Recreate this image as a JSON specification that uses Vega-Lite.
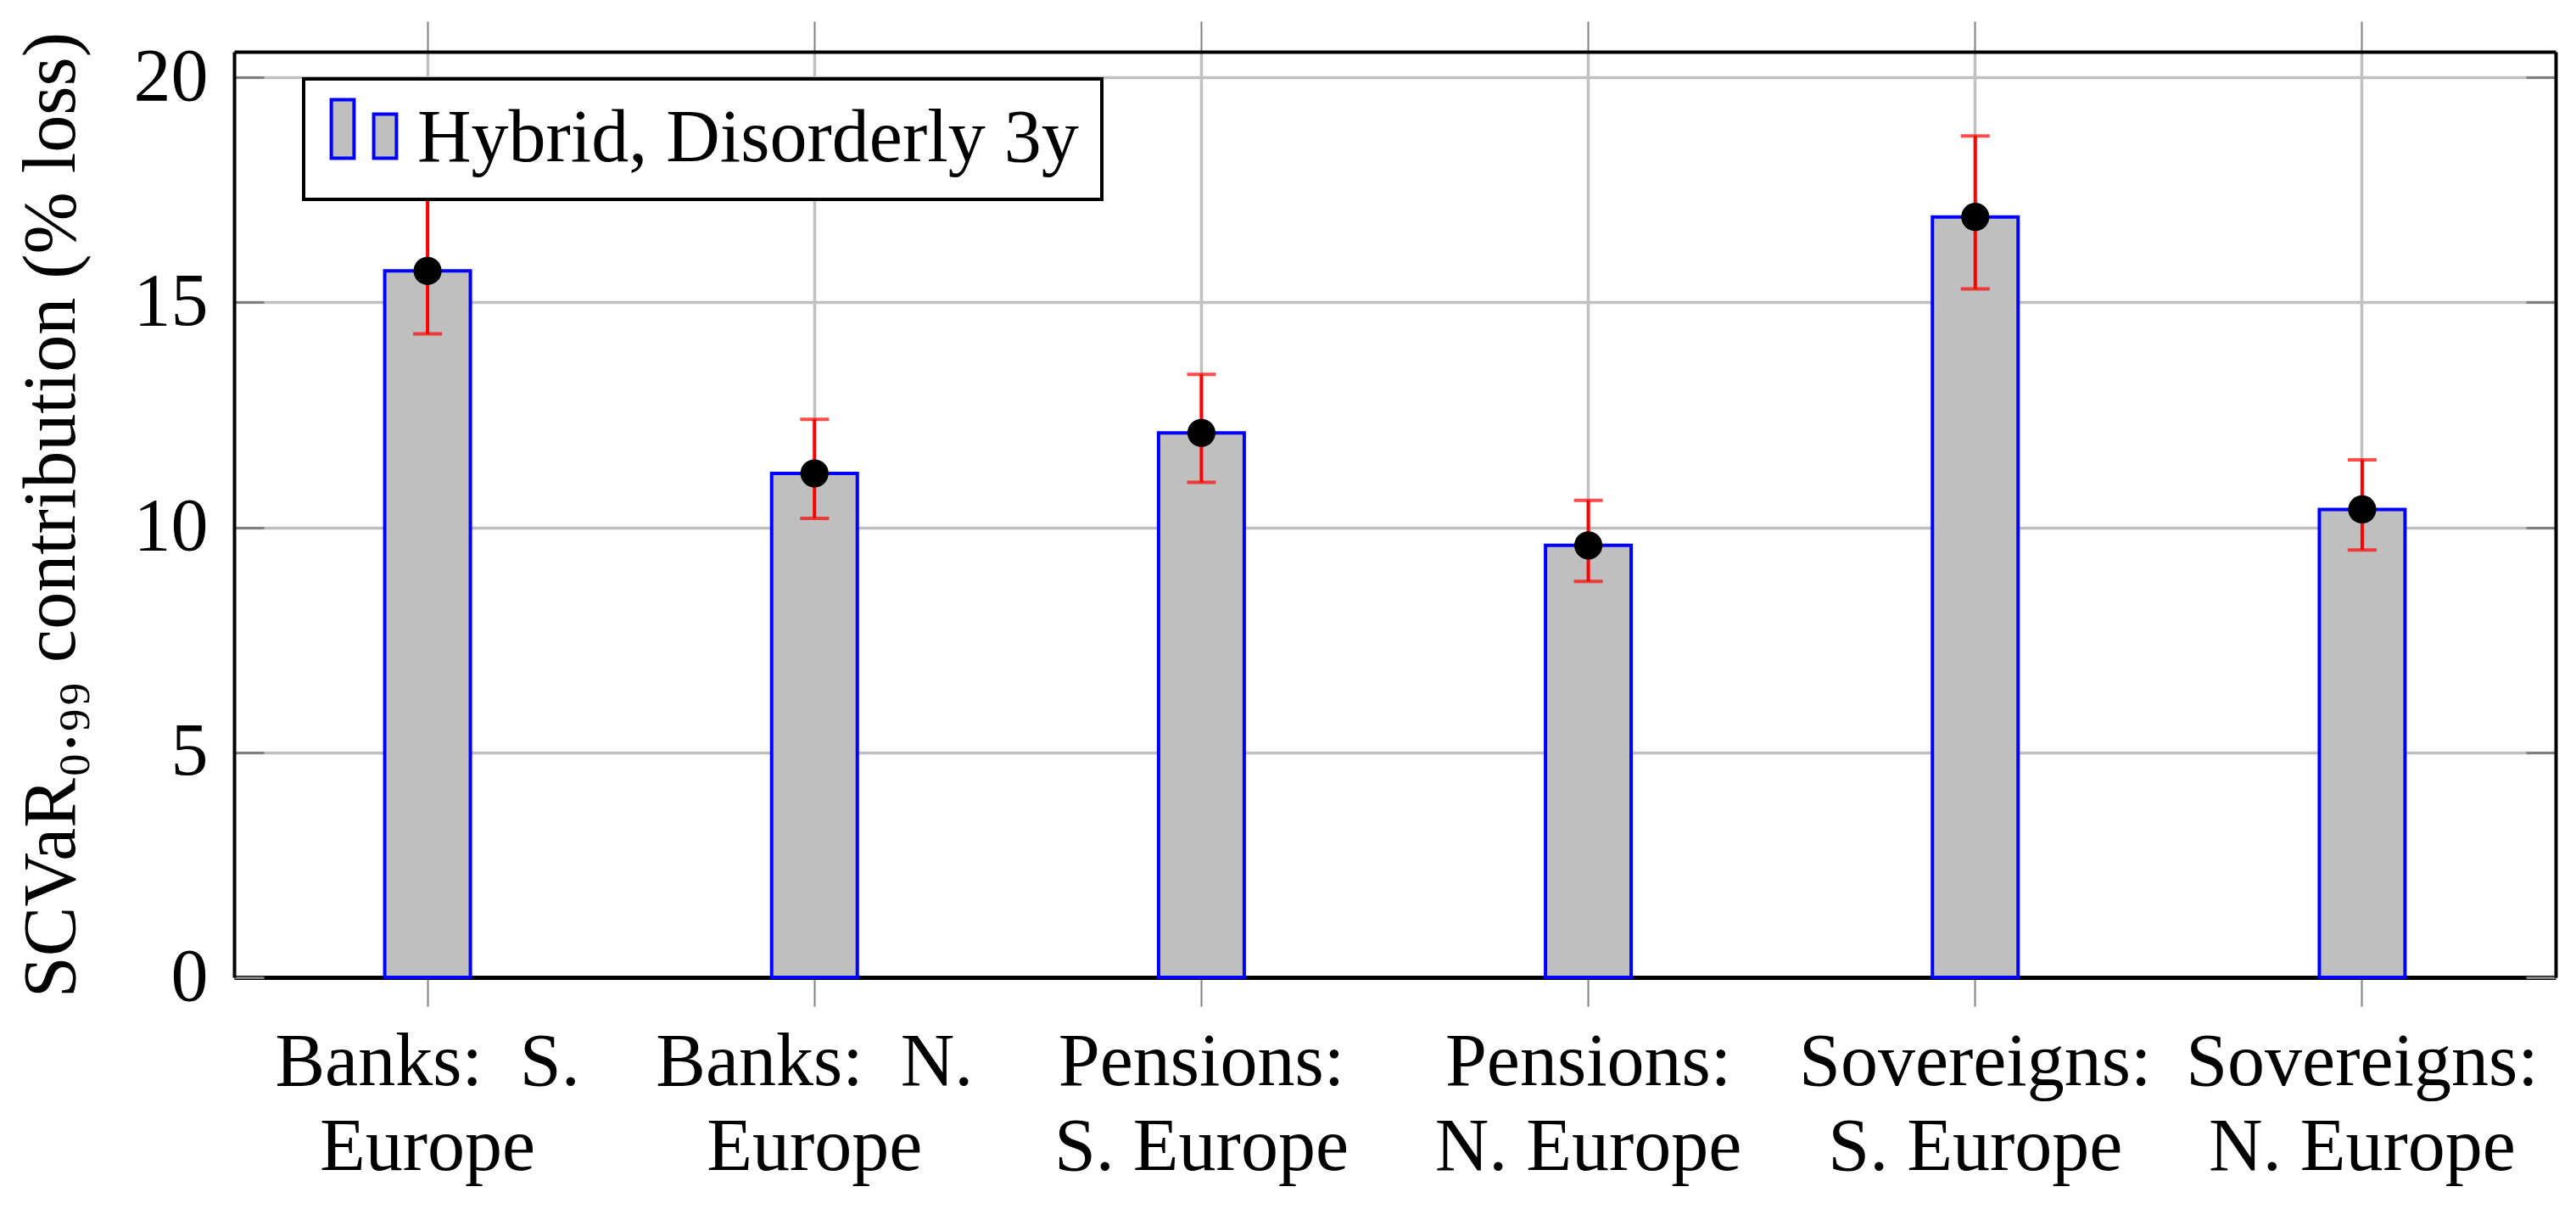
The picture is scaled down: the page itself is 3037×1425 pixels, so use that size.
{
  "$schema": "https://vega.github.io/schema/vega-lite/v6.json",
  "autosize": {"type": "none"},
  "padding": {"left": 276, "top": 61, "right": 24, "bottom": 273},
  "width": 2737,
  "height": 1091,
  "config": {
    "font": "Liberation Serif",
    "view": {"stroke": null},
    "axis": {"zindex": 0},
    "legend": {"strokeWidth": 4}
  },
  "data": {
    "values": [
      {"cat": "Banks:\u00a0 S.|Europe", "value": 15.7, "lo": 14.3, "hi": 17.6, "series": "Hybrid, Disorderly 3y"},
      {"cat": "Banks:\u00a0 N.|Europe", "value": 11.2, "lo": 10.2, "hi": 12.4, "series": "Hybrid, Disorderly 3y"},
      {"cat": "Pensions:|S. Europe", "value": 12.1, "lo": 11.0, "hi": 13.4, "series": "Hybrid, Disorderly 3y"},
      {"cat": "Pensions:|N. Europe", "value": 9.6, "lo": 8.8, "hi": 10.6, "series": "Hybrid, Disorderly 3y"},
      {"cat": "Sovereigns:|S. Europe", "value": 16.9, "lo": 15.3, "hi": 18.7, "series": "Hybrid, Disorderly 3y"},
      {"cat": "Sovereigns:|N. Europe", "value": 10.4, "lo": 9.5, "hi": 11.5, "series": "Hybrid, Disorderly 3y"}
    ]
  },
  "resolve": {"axis": {"x": "independent", "y": "independent"}},
  "layer": [
    {
      "mark": {"type": "bar", "stroke": "#0000ff", "strokeWidth": 4},
      "encoding": {
        "x": {
          "field": "cat", "type": "nominal", "sort": null,
          "scale": {"paddingInner": 0.7786, "paddingOuter": 0.3893},
          "axis": {
            "orient": "bottom", "title": null, "grid": true, "bandPosition": 0.5,
            "gridColor": "#bfbfbf", "gridWidth": 3.5,
            "domainColor": "black", "domainWidth": 5,
            "tickSize": 34, "tickColor": "#808080", "tickWidth": 2,
            "labelExpr": "split(datum.label, '|')",
            "labelFontSize": 88, "labelLineHeight": 100, "labelColor": "black",
            "labelAngle": 0, "labelPadding": 22, "labelBaseline": "top",
            "labelOverlap": false, "labelFlush": false, "labelBound": false, "labelLimit": 0
          }
        },
        "y": {
          "field": "value", "type": "quantitative",
          "scale": {"domain": [0, 20.57], "nice": false, "zero": true},
          "axis": {
            "orient": "left", "values": [0, 5, 10, 15, 20],
            "title": "SCVaR\u2080.\u2089\u2089 contribution (% loss)",
            "titleFontSize": 88, "titleFontWeight": "normal", "titleColor": "black", "titlePadding": 52,
            "grid": true, "gridColor": "#bfbfbf", "gridWidth": 3.5,
            "domainColor": "black", "domainWidth": 4,
            "tickSize": -35, "tickColor": "#7f7f7f", "tickWidth": 3,
            "labelFontSize": 88, "labelColor": "black", "labelPadding": 66
          }
        },
        "fill": {
          "field": "series", "type": "nominal",
          "scale": {"range": ["#bfbfbf"]},
          "legend": {
            "title": null, "orient": "none", "legendX": 82, "legendY": 32,
            "fillColor": "white", "strokeColor": "black",
            "padding": 27, "labelFontSize": 88, "labelColor": "black", "labelOffset": 19, "labelLimit": 0,
            "symbolType": "M -0.96 -1.16 H -0.29 V 0.56 H -0.96 Z M 0.29 -0.74 H 0.96 V 0.56 H 0.29 Z",
            "symbolSize": 6400, "symbolStrokeColor": "#0000ff", "symbolStrokeWidth": 4
          }
        }
      }
    },
    {
      "mark": {"type": "rule", "color": "#ff0000", "strokeWidth": 4},
      "encoding": {
        "x": {
          "field": "cat", "type": "nominal", "sort": null,
          "axis": {
            "orient": "top", "title": null, "labels": false, "grid": false, "bandPosition": 0.5,
            "domainColor": "black", "domainWidth": 4,
            "tickSize": 36, "tickColor": "#808080", "tickWidth": 2
          }
        },
        "y": {
          "field": "lo", "type": "quantitative",
          "axis": {
            "orient": "right", "title": null, "labels": false, "grid": false,
            "values": [0, 5, 10, 15, 20],
            "domainColor": "black", "domainWidth": 4,
            "tickSize": -35, "tickColor": "#7f7f7f", "tickWidth": 3
          }
        },
        "y2": {"field": "hi"}
      }
    },
    {
      "mark": {"type": "tick", "color": "#ff0000", "size": 34, "thickness": 4},
      "encoding": {
        "x": {"field": "cat", "type": "nominal", "sort": null, "axis": null},
        "y": {"field": "lo", "type": "quantitative", "axis": null}
      }
    },
    {
      "mark": {"type": "tick", "color": "#ff0000", "size": 34, "thickness": 4},
      "encoding": {
        "x": {"field": "cat", "type": "nominal", "sort": null, "axis": null},
        "y": {"field": "hi", "type": "quantitative", "axis": null}
      }
    },
    {
      "mark": {"type": "point", "filled": true, "color": "black", "opacity": 1, "size": 1100},
      "encoding": {
        "x": {"field": "cat", "type": "nominal", "sort": null, "axis": null},
        "y": {"field": "value", "type": "quantitative", "axis": null}
      }
    }
  ]
}
